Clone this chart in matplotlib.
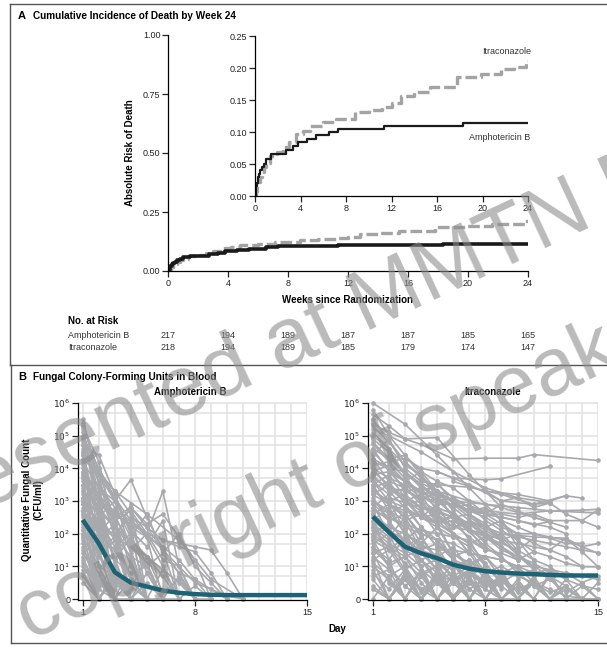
import matplotlib
matplotlib.use("Agg")  # no display in the sandbox
import matplotlib.pyplot as plt
from matplotlib.lines import Line2D
from matplotlib.transforms import blended_transform_factory

plt.rcParams["font.family"] = ["Liberation Sans Narrow", "Liberation Sans", "DejaVu Sans"]

# ---- Panel A: cumulative incidence of death (step curves) ----
AMB_WEEKS = [0, 0.05, 0.1, 0.15, 0.25, 0.35, 0.45, 0.6, 0.8, 1.0,
             1.45, 2.75, 3.3, 3.8, 4.6, 5.4, 6.5, 7.3, 11.3, 18.3, 24]
AMB_RISK = [0, 0.005, 0.015, 0.02, 0.03, 0.035, 0.04, 0.045, 0.05, 0.058,
            0.065, 0.072, 0.078, 0.084, 0.089, 0.095, 0.100, 0.105, 0.109, 0.114, 0.114]
ITRA_WEEKS = [0, 0.1, 0.2, 0.3, 0.45, 0.6, 0.8, 1.0, 1.3, 1.9,
              2.5, 3.0, 3.6, 4.2, 4.8, 6.0, 7.1, 8.8, 10.0, 11.2,
              12.0, 12.8, 14.0, 15.4, 17.8, 19.9, 21.6, 22.8, 23.8, 24.0]
ITRA_RISK = [0, 0.008, 0.015, 0.022, 0.03, 0.038, 0.045, 0.052, 0.062, 0.068,
             0.077, 0.084, 0.097, 0.101, 0.110, 0.115, 0.121, 0.131, 0.134, 0.139,
             0.145, 0.157, 0.162, 0.170, 0.186, 0.191, 0.198, 0.201, 0.211, 0.211]

RISK_WEEKS = [0, 4, 8, 12, 16, 20, 24]
AMB_AT_RISK = [217, 194, 189, 187, 187, 185, 165]
ITRA_AT_RISK = [218, 194, 189, 185, 179, 174, 147]

# ---- Panel B: log10 CFU/ml per patient (0 = no growth) ----
AMB_DAYS = [
    [1, 2, 3], [1, 2, 3, 4], [1, 2, 3], [1, 2, 3, 4, 5], [1, 2],
    [1, 2, 3, 4], [1, 2, 3], [1, 2, 3, 4, 5, 6], [1, 2, 3, 4, 5, 6, 7], [1, 2, 3],
    [1, 2, 3, 4], [1, 2], [1, 2, 3, 4, 5], [1, 3, 5, 6, 7, 8], [1, 2, 3],
    [1, 2, 3, 4, 5, 6, 7, 8, 9, 10], [1, 2, 3], [1, 2], [1, 2, 3, 4, 5, 6], [1, 2, 3],
    [1, 2, 3, 4], [1, 2], [1, 2, 3, 4, 5, 6, 7, 8, 9, 10, 11], [1, 2, 3], [1, 2],
    [1, 2, 3, 4], [1, 2], [1, 2, 3], [1, 2], [1, 2, 3],
    [1, 2, 3, 4, 5], [1, 2, 3, 4, 5, 6, 7], [1, 2, 3, 4, 5, 6, 7, 8], [1, 3, 5, 7, 9, 11],
    [1, 2, 3, 4, 5, 6, 7, 8, 9, 10, 11], [1, 2, 3, 4, 5], [2, 3, 4, 5, 6, 7], [1, 2, 3, 4],
    [1, 2, 3, 4, 5, 6, 7, 8, 9, 10], [1, 2, 3, 4, 5, 6, 7, 8, 9], [1, 2, 3, 4, 5, 6],
    [1, 2, 3, 4, 5, 6, 7, 8],
    [1, 2, 3], [1, 2, 3, 4], [1, 2, 3], [1, 2, 3, 4, 5], [1, 2, 3],
    [1, 2, 3, 4], [1, 2, 3, 4], [1, 2, 3, 4, 5, 6], [1, 2, 3, 4, 5], [1, 2, 3, 4],
    [1, 2, 3, 4], [1, 2, 3, 4, 5, 6, 7], [1, 2, 3], [1, 2, 3, 4, 5], [1, 2, 3, 4],
    [1, 2, 3], [1, 2, 3, 4, 5, 6], [1, 2, 3], [1, 2, 3, 4], [1, 2, 3],
    [1, 2, 3, 4, 5], [1, 2, 3, 4, 5, 6], [1, 2, 3, 4, 5, 6, 7, 8, 9], [2, 3, 4, 5], [2, 3, 4],
    [2, 3, 4, 5, 6], [3, 4, 5, 6, 7, 8], [1, 2, 3, 4, 5, 6, 7, 8, 9], [1, 2, 3, 4, 5, 6, 7],
    [4, 5, 6, 7, 8, 9], [1, 2, 3, 4, 5, 6, 7, 8, 9, 10], [1, 2, 3, 4, 5], [1, 2, 3, 4, 5],
    [1, 2, 3, 4, 5, 6, 7, 8],
]
AMB_LOGS = [
    [5.5, 3.5, 0], [5.3, 4.2, 2.0, 0], [5.2, 3.0, 0], [5.0, 4.0, 3.0, 1.5, 0], [4.8, 0],
    [4.6, 3.6, 2.5, 0], [4.5, 2.0, 0], [4.3, 3.8, 3.0, 2.2, 1.0, 0], [4.2, 3.4, 3.0, 3.65, 2.5, 1.5, 0], [4.0, 2.5, 0],
    [3.9, 3.2, 1.0, 0], [3.8, 0], [3.6, 2.8, 2.2, 1.2, 0], [3.5, 2.6, 2.0, 3.3, 1.0, 0], [3.4, 1.5, 0],
    [3.3, 3.0, 2.7, 2.4, 2.0, 1.8, 1.6, 1.45, 0.8, 0], [3.2, 2.2, 0], [3.0, 0], [2.9, 2.4, 1.6, 2.0, 0.8, 0], [2.8, 1.0, 0],
    [2.7, 2.0, 0, 0], [2.5, 0], [2.4, 2.2, 2.0, 2.5, 2.2, 1.8, 1.7, 1.6, 1.5, 0.8, 0], [2.2, 0.7, 0], [2.0, 0],
    [1.9, 1.0, 0.7, 0], [1.7, 0], [1.5, 0.8, 0], [1.3, 0], [1.0, 0.5, 0],
    [0.8, 0, 0.7, 0, 0], [0.5, 0, 0.6, 0, 0.8, 0, 0], [3.7, 3.0, 2.5, 2.8, 2.2, 1.5, 1.0, 0], [4.4, 3.3, 2.6, 1.8, 0.6, 0],
    [2.6, 1.8, 2.3, 1.5, 2.0, 1.2, 1.0, 0.5, 0.3, 0.1, 0], [3.1, 2.6, 1.8, 2.9, 0], [2.5, 3.0, 2.1, 1.6, 2.4, 0], [5.1, 2.8, 1.2, 0],
    [1.8, 2.4, 1.2, 1.9, 2.6, 1.4, 2.0, 1.0, 0.5, 0], [2.1, 1.4, 0, 1.1, 0, 0.9, 0, 0.4, 0], [4.7, 3.9, 3.3, 2.6, 1.9, 0],
    [1.2, 0.4, 1.0, 0.3, 1.3, 0.2, 0.6, 0],
    [5.4, 2.2, 0], [5.0, 3.8, 1.8, 0], [4.9, 1.0, 0], [4.7, 4.4, 3.2, 2.0, 0], [4.4, 2.6, 0.5],
    [4.1, 3.0, 2.4, 0], [3.9, 1.8, 0.9, 0], [3.7, 3.5, 2.8, 1.9, 1.1, 0], [3.5, 2.0, 2.6, 1.4, 0], [3.3, 2.8, 1.2, 0],
    [3.1, 1.6, 0.8, 0], [3.0, 2.7, 2.2, 1.8, 1.3, 0.7, 0], [2.9, 2.1, 0.3], [2.6, 2.0, 1.5, 0.6, 0], [2.4, 1.3, 1.8, 0],
    [2.3, 1.9, 0.4], [2.1, 1.6, 1.2, 0.8, 1.0, 0], [1.9, 0.3, 0], [1.6, 1.4, 0.5, 0], [1.4, 0.6, 0],
    [1.1, 0, 0.9, 0.4, 0], [0.9, 0.5, 0, 0.6, 0, 0], [0.7, 0, 0.8, 0, 0.5, 0, 0.7, 0, 0], [4.0, 3.1, 2.0, 0], [3.5, 2.3, 0],
    [2.9, 2.5, 1.7, 1.0, 0], [2.4, 2.7, 2.0, 1.5, 0.8, 0], [3.8, 3.2, 2.6, 2.2, 1.9, 1.6, 1.2, 0.6, 0],
    [4.5, 3.9, 3.1, 2.4, 1.9, 1.0, 0],
    [2.8, 2.3, 2.6, 1.9, 1.2, 0], [2.0, 1.5, 1.9, 1.3, 1.0, 1.4, 0.8, 0.6, 0.3, 0], [5.3, 3.9, 2.4, 1.0, 0],
    [4.9, 3.3, 2.0, 0.6, 0],
    [2.7, 2.2, 1.9, 1.6, 1.3, 0.9, 0.5, 0],
]

ITRA_DAYS = [
    [1, 3, 5, 7, 9, 11], [1, 2, 3, 5, 7, 9], [1, 2, 3, 4, 6, 8, 10, 11, 15], [1, 2, 4, 6, 8, 10, 12],
    [1, 2, 3, 4, 5, 6, 7, 8], [1, 2, 3, 4, 5, 6, 8, 9, 12], [1, 2, 3, 4, 5, 7, 9, 11, 13, 14],
    [1, 2, 3, 4, 5, 6, 8, 10, 12, 14, 15], [1, 2, 3, 4, 5, 6, 7, 8, 9, 10, 11, 12],
    [1, 2, 3, 4, 6, 8, 10, 12, 15], [1, 2, 3, 4, 5, 6, 7], [1, 2, 3, 4, 5],
    [1, 2, 3, 4, 5, 6, 7, 8, 9], [1, 2, 3, 4, 5, 6, 7, 8, 9, 10, 11],
    [1, 2, 3, 4, 5, 6, 7, 8, 9, 10, 11, 12, 13, 14, 15], [1, 2, 3, 4, 5, 6, 7, 8], [1, 2, 3, 4],
    [1, 2, 3, 4, 5, 6], [1, 2, 3, 4, 5, 6, 7, 8, 9, 10, 11, 12, 13, 14, 15], [1, 2, 3],
    [1, 2, 3, 4, 5, 6, 7, 8, 9, 10], [1, 2, 3, 4, 5], [1, 2, 3, 4, 5, 6, 7, 8, 9, 10, 11, 12, 13, 14],
    [1, 2, 3, 4], [1, 2, 3, 4, 5, 6, 7, 8], [1, 2, 3], [1, 2, 3, 4, 5, 6],
    [1, 2, 3, 4, 5, 6, 7, 8, 9, 10], [1, 2, 3, 4, 5, 6, 7, 8, 9, 10, 11, 12, 13],
    [1, 2, 3, 4, 5, 6, 7, 8, 9, 10, 11, 12, 13, 14, 15], [1, 2, 3, 4, 5, 6, 7, 8, 9, 10, 11, 12],
    [1, 2, 3, 4, 5, 6, 7, 8, 9, 10, 11, 12, 13, 14], [1, 2, 3, 4, 5, 6, 7, 8, 9, 10, 11, 12, 13, 14, 15],
    [1, 2, 3, 4, 5, 6, 7, 8, 9, 10], [1, 2, 3, 4, 5, 6, 7, 8, 9, 10, 11, 12, 13, 14, 15],
    [1, 2, 3, 4, 5, 6, 7], [1, 2, 3, 4, 5, 6, 7, 8, 9, 10, 11], [1, 2, 3, 4, 5, 6],
    [1, 2, 3, 4, 5, 6, 7, 8, 9], [1, 2, 3, 4, 5, 6, 7, 8, 9, 10, 11, 12],
    [1, 2, 3, 4, 5, 6, 7, 8, 9, 10, 11, 12, 13, 14], [2, 3, 4, 5, 6, 7, 8, 9, 10, 11, 12, 13],
    [1, 2, 3, 4, 5, 6, 7, 8, 9, 10, 11, 12, 13, 14, 15], [1, 2, 3, 4, 5, 6, 7, 8, 9, 10, 11, 12, 13],
    [1, 3, 5, 7, 9, 11], [1, 2, 3, 5, 7, 9, 11, 13], [1, 2, 3, 4, 5, 6, 7, 8, 9], [1, 2, 3, 4, 5, 6, 7],
    [1, 2, 3, 4, 5, 6, 7, 8, 9, 10, 11, 12, 13, 14, 15], [1, 2, 3, 4, 5, 6],
    [6, 8, 10, 12, 13], [5, 7, 9, 11, 12], [7, 9, 11, 13, 14, 15],
    [1, 2, 3, 4, 5, 6, 7, 8, 9, 10], [1, 2, 3, 4, 5, 6, 7, 8], [1, 2, 3, 4, 5, 6, 7, 8, 9],
    [1, 2, 3, 4, 5, 6, 7], [1, 2, 3, 4, 5, 6, 7, 8, 9, 10, 11], [1, 2, 3, 4, 5, 6],
    [1, 2, 3, 4, 5, 6, 7, 8], [1, 2, 3, 4, 5, 6, 7, 8, 9, 10, 11, 12], [1, 2, 3, 4, 5],
    [1, 2, 3, 4, 5, 6, 7, 8, 9], [1, 2, 3, 4, 5, 6, 7], [1, 2, 3, 4, 5, 6, 7, 8, 9, 10],
    [1, 2, 3, 4, 5, 6], [1, 2, 3, 4, 5, 6, 7, 8], [1, 2, 3, 4, 5],
    [1, 2, 3, 4, 5, 6, 7, 8, 9, 10, 11], [1, 2, 3, 4, 5, 6], [1, 2, 3, 4, 5, 6, 7, 8, 9],
    [1, 2, 3, 4, 5, 6, 7, 8, 9, 10, 11, 12, 13, 14], [1, 2, 3, 4, 5, 6, 7, 8, 9, 10, 11, 12, 13, 14, 15],
    [1, 2, 3, 4, 5, 6, 7, 8, 9, 10, 11, 12, 13, 14, 15], [2, 3, 4, 5, 6, 7, 8],
    [2, 3, 4, 5, 6, 7, 8, 9], [3, 4, 5, 6, 7, 8, 9, 10], [2, 4, 6, 8, 10],
    [1, 2, 3, 4, 5, 6, 7, 8, 9, 10, 11, 12, 13], [1, 2, 3, 4, 5, 6, 7, 8],
    [1, 2, 3, 4, 5, 6, 7, 8, 9, 10], [1, 2, 3, 4, 5, 6], [4, 5, 6, 7, 8, 9, 10, 11, 12],
    [5, 6, 7, 8, 9, 10, 11, 12, 13, 14], [1, 2, 3, 4, 5, 6, 7, 8, 9, 10, 11, 12, 13, 14, 15],
    [1, 2, 3, 4, 5, 6, 7, 8, 9, 10, 11, 12, 13, 14, 15], [1, 2, 3, 4, 5, 6, 7, 8, 9, 10, 11, 12],
    [6, 7, 8, 9, 10, 11, 12, 13, 14, 15], [8, 9, 10, 11, 12, 13, 14, 15], [1, 2, 3, 4, 5, 6, 7, 8, 9],
    [1, 2, 3, 4, 5, 6, 7, 8, 9, 10, 11, 12, 13, 14, 15],
]
ITRA_LOGS = [
    [6.0, 5.35, 4.4, 3.4, 2.4, 1.2], [5.65, 5.3, 4.9, 4.94, 3.8, 2.8],
    [5.35, 5.1, 4.9, 4.73, 4.29, 4.31, 4.31, 4.42, 4.24], [5.2, 5.0, 4.5, 3.9, 3.4, 3.1, 2.95],
    [5.0, 4.6, 4.1, 3.8, 3.2, 2.5, 1.8, 1.0], [4.75, 4.2, 4.3, 4.0, 3.9, 3.7, 3.65, 3.68, 4.06],
    [4.4, 4.9, 4.0, 3.6, 3.5, 3.42, 3.2, 2.9, 3.16, 3.09],
    [4.2, 4.0, 3.9, 3.4, 3.2, 3.0, 2.9, 2.8, 2.7, 2.72, 2.75],
    [4.0, 3.7, 3.5, 3.3, 3.0, 3.1, 2.8, 2.6, 2.5, 2.4, 2.27, 2.37],
    [3.9, 4.1, 3.6, 3.3, 3.0, 2.7, 2.6, 2.7, 2.63], [3.8, 3.3, 2.8, 2.2, 1.6, 0.8, 0], [3.6, 3.0, 2.1, 1.0, 0],
    [3.5, 3.8, 3.1, 2.5, 2.9, 2.0, 1.4, 0.7, 0], [3.3, 3.0, 3.2, 2.8, 2.6, 2.2, 2.3, 1.9, 1.7, 1.5, 1.86],
    [3.2, 2.9, 2.7, 2.5, 2.6, 2.2, 2.1, 2.0, 1.8, 1.7, 1.6, 1.5, 1.86, 1.6, 1.4],
    [3.0, 2.6, 2.9, 2.2, 1.8, 1.2, 0.5, 0], [2.9, 2.0, 1.0, 0],
    [2.8, 3.2, 2.4, 1.5, 0.9, 0], [2.7, 2.5, 2.3, 2.1, 2.0, 1.9, 1.8, 1.5, 1.4, 1.2, 1.45, 1.3, 1.1, 0.99, 0.98],
    [2.5, 1.2, 0], [2.4, 2.8, 2.0, 1.7, 2.2, 1.4, 1.0, 1.3, 0.6, 0], [2.2, 1.5, 0.8, 0.3, 0],
    [2.0, 2.3, 1.8, 1.5, 1.7, 1.2, 1.0, 0.9, 0.8, 0.7, 0.5, 0.3, 0.1, 0.02],
    [1.8, 1.0, 0.4, 0], [1.6, 1.2, 1.9, 0.9, 0.5, 1.1, 0.3, 0], [1.4, 0.5, 0], [1.2, 0, 0.8, 0, 0.7, 0],
    [1.0, 0.6, 0, 0.9, 0, 0.8, 0, 0.6, 0, 0], [0.6, 0, 0.7, 0, 0.9, 0, 0.7, 0, 0.8, 0, 0.6, 0, 0],
    [0.4, 0, 0.6, 0, 0.5, 0, 0.9, 0, 0.7, 0, 0.5, 0, 0.3, 0, 0],
    [4.6, 4.3, 3.9, 3.5, 3.0, 2.6, 2.2, 1.7, 1.3, 0.8, 0.4, 0],
    [4.1, 4.2, 3.7, 3.2, 2.9, 2.9, 2.7, 2.5, 2.2, 2.0, 2.0, 1.86, 1.7, 1.71],
    [3.7, 3.4, 3.3, 3.1, 3.0, 2.9, 2.7, 2.6, 2.6, 2.5, 2.6, 2.4, 2.4, 2.4, 2.73],
    [3.4, 3.6, 2.9, 3.0, 2.4, 2.5, 2.1, 2.0, 1.6, 1.2],
    [2.6, 2.2, 2.0, 1.6, 1.5, 1.5, 1.4, 1.3, 1.2, 1.0, 1.0, 0.9, 0.8, 0.7, 0.6],
    [4.9, 4.5, 3.8, 3.0, 2.3, 1.4, 0], [4.3, 3.6, 3.4, 3.0, 3.3, 2.8, 2.9, 2.4, 2.1, 1.8, 1.45],
    [3.1, 2.4, 2.6, 1.9, 1.2, 0], [2.3, 1.9, 2.5, 1.7, 1.3, 1.6, 0.9, 0.5, 0],
    [1.9, 2.2, 1.4, 1.0, 1.2, 0.6, 0.9, 0.4, 0.7, 0.2, 0.5, 0],
    [1.5, 1.1, 1.3, 0.8, 1.0, 0.5, 0.8, 0.4, 0.6, 0.3, 0.5, 0.2, 0.4, 0],
    [3.4, 3.0, 2.7, 2.3, 2.6, 2.1, 1.8, 2.0, 1.5, 1.2, 1.0, 0.6],
    [3.9, 3.5, 3.1, 2.8, 2.7, 2.5, 2.3, 2.2, 2.0, 1.9, 1.8, 1.7, 1.6, 1.5, 1.42],
    [4.5, 4.0, 3.6, 3.3, 3.5, 3.1, 2.8, 2.6, 2.5, 2.4, 2.3, 2.2, 2.0],
    [5.5, 4.2, 3.3, 2.6, 1.8, 0.9], [5.1, 4.6, 3.8, 3.3, 3.0, 2.8, 2.5, 2.2],
    [2.1, 1.7, 1.4, 1.9, 1.1, 0.7, 1.0, 0.3, 0], [1.3, 0.9, 0.4, 0.8, 0, 0.5, 0],
    [0.8, 0.3, 0.9, 0.2, 0.7, 0.1, 0.6, 0, 0.6, 0, 0.5, 0, 0.4, 0, 0],
    [3.5, 2.7, 2.0, 1.2, 0.5, 0],
    [3.6, 3.3, 3.2, 3.0, 3.16], [3.9, 3.5, 3.0, 2.9, 2.94], [2.4, 2.0, 1.9, 1.86, 1.45, 0.99],
    [4.6, 3.9, 3.6, 3.2, 2.8, 2.6, 2.3, 2.0, 1.6, 1.2], [4.3, 4.0, 3.3, 3.4, 2.7, 2.3, 1.9, 1.5],
    [4.0, 3.4, 3.0, 3.2, 2.4, 2.0, 1.7, 1.1, 0.5],
    [3.8, 3.9, 3.4, 2.9, 2.6, 2.0, 1.4], [3.6, 3.2, 3.4, 3.0, 2.7, 2.5, 2.6, 2.2, 1.9, 1.4, 1.0],
    [3.4, 2.9, 2.5, 2.7, 2.0, 1.2],
    [3.2, 3.5, 3.0, 2.5, 2.2, 1.9, 1.6, 1.0], [3.0, 2.7, 2.4, 2.6, 2.3, 2.0, 1.7, 1.9, 1.5, 1.3, 1.1, 0.8],
    [2.8, 2.4, 1.7, 1.2, 0.6],
    [2.6, 2.9, 2.6, 2.0, 1.8, 1.3, 1.5, 0.8, 0.3], [2.4, 2.0, 1.6, 1.9, 1.2, 0.7, 0],
    [2.2, 1.8, 2.1, 1.5, 1.3, 1.0, 1.2, 0.6, 0.4, 0],
    [2.0, 1.6, 1.1, 0.7, 1.0, 0], [1.8, 1.5, 1.7, 1.2, 0.8, 0.5, 0.9, 0], [1.6, 1.0, 1.3, 0.5, 0],
    [1.4, 1.6, 0.9, 1.2, 0.6, 0.8, 0.3, 0.6, 0, 0.4, 0], [1.1, 0.7, 1.0, 0.3, 0.6, 0],
    [0.9, 0, 0.6, 0, 0.8, 0, 0.6, 0, 0],
    [0.7, 0.9, 0, 0.7, 0, 0.8, 0, 0.9, 0, 0.6, 0, 0.8, 0, 0],
    [0.3, 0, 0.8, 0, 0.6, 0, 0.5, 0, 0.9, 0, 0.7, 0, 0.6, 0, 0.5],
    [0, 0.7, 0, 0.9, 0, 0.6, 0, 0.8, 0, 0.5, 0, 0.7, 0, 0.4, 0], [4.4, 3.8, 3.5, 3.1, 2.8, 2.4, 2.0],
    [3.9, 3.6, 3.9, 3.3, 3.0, 2.6, 2.3, 1.8], [3.5, 3.1, 3.6, 2.9, 2.5, 2.2, 2.4, 1.6], [3.1, 2.8, 2.5, 1.6, 0.9],
    [3.3, 3.0, 2.8, 2.5, 2.3, 2.4, 2.1, 1.9, 1.6, 1.3, 1.0, 0.7, 0.4], [5.3, 4.8, 4.2, 3.7, 3.3, 2.7, 2.1, 1.5],
    [4.8, 4.3, 4.4, 3.9, 3.6, 3.4, 3.0, 2.6, 2.3, 2.0], [5.8, 5.0, 4.4, 3.8, 3.1, 2.5],
    [3.3, 3.0, 3.1, 2.8, 2.6, 2.9, 2.7, 2.5, 2.37],
    [2.5, 2.2, 2.4, 2.1, 1.8, 2.0, 1.7, 1.5, 1.3, 1.0],
    [2.9, 2.5, 2.2, 2.0, 1.8, 1.7, 1.4, 1.3, 1.2, 1.0, 0.8, 0.9, 0.6, 0.4, 0.3],
    [1.7, 2.0, 1.5, 1.2, 1.4, 1.0, 0.7, 1.0, 0.5, 0.8, 0.4, 0.6, 0.2, 0.5, 0],
    [2.5, 2.1, 1.8, 2.2, 1.6, 1.4, 1.1, 1.3, 0.8, 1.0, 0.5, 0],
    [3.0, 2.7, 2.8, 2.4, 2.2, 2.0, 1.9, 1.8, 1.6, 1.7], [3.3, 3.0, 3.1, 2.8, 2.94, 2.6, 2.4, 2.2],
    [1.2, 1.5, 1.9, 1.4, 0.9, 1.1, 0.6, 0.3, 0],
    [1.9, 1.6, 1.3, 1.5, 1.1, 0.9, 1.2, 0.8, 1.0, 0.7, 0.9, 0.6, 0.8, 0.5, 0.7],
]

MEAN_DAYS = list(range(1, 16))
AMB_MEAN = [2.42, 1.7, 0.82, 0.5, 0.38, 0.26, 0.19, 0.15, 0.13, 0.12, 0.12, 0.12, 0.12, 0.12, 0.12]
ITRA_MEAN = [2.52, 2.05, 1.6, 1.4, 1.25, 1.05, 0.93, 0.85, 0.81, 0.78, 0.76, 0.74, 0.72, 0.72, 0.72]

W, H = 607, 648
GRAY_LINE = "#a7a9ac"
TEAL = "#1d6275"
TXT = "#222222"


def fx(px):
    return px / W


def fy(py):
    return 1 - py / H


def box(left, top, right, bottom):
    return [fx(left), fy(bottom), fx(right) - fx(left), fy(top) - fy(bottom)]


def style_axis(ax):
    for s in ("top", "right"):
        ax.spines[s].set_visible(False)
    for s in ("left", "bottom"):
        ax.spines[s].set_linewidth(0.9)
    ax.tick_params(direction="out", length=4, width=0.9, labelsize=6.5, colors=TXT, pad=1.5)


fig = plt.figure(figsize=(W / 100, H / 100), dpi=100)

# panel frames
for xs, ys in [((10, 607), (4, 4)), ((10, 10), (4, 365)), ((10, 607), (365, 365)),
               ((11, 11), (365, 643)), ((11, 607), (643, 643))]:
    fig.add_artist(Line2D([fx(x) for x in xs], [fy(y) for y in ys], color="#555555", lw=1))

# ---------------- Panel A ----------------
fig.text(fx(18), fy(16), "A", fontsize=8, fontweight="bold", va="center")
fig.text(fx(33), fy(16), "Cumulative Incidence of Death by Week 24", fontsize=7.2,
         fontweight="bold", va="center")

ax = fig.add_axes(box(168, 35, 528, 271))
ax.step(ITRA_WEEKS, ITRA_RISK, where="post", color="#a3a3a3", lw=2.4, dashes=(3.5, 1.2))
ax.step(AMB_WEEKS, AMB_RISK, where="post", color="#1a1a1a", lw=2.6)
ax.set_xlim(0, 24)
ax.set_ylim(0, 1)
ax.set_xticks(range(0, 25, 4))
ax.set_yticks([0, 0.25, 0.5, 0.75, 1.0])
ax.set_yticklabels(["0.00", "0.25", "0.50", "0.75", "1.00"])
style_axis(ax)
ax.patch.set_alpha(0)

fig.text(fx(348), fy(300), "Weeks since Randomization", fontsize=7, fontweight="bold",
         ha="center", va="center")
fig.text(fx(130), fy(153), "Absolute Risk of Death", fontsize=7, fontweight="bold",
         ha="center", va="center", rotation=90)

inset = fig.add_axes(box(255, 36, 528, 196))
inset.step(ITRA_WEEKS, ITRA_RISK, where="post", color="#a3a3a3", lw=2.4, dashes=(3.5, 1.2))
inset.step(AMB_WEEKS, AMB_RISK, where="post", color="#1a1a1a", lw=1.6)
inset.set_xlim(0, 24)
inset.set_ylim(0, 0.25)
inset.set_xticks(range(0, 25, 4))
inset.set_yticks([0, 0.05, 0.10, 0.15, 0.20, 0.25])
inset.set_yticklabels(["0.00", "0.05", "0.10", "0.15", "0.20", "0.25"])
style_axis(inset)
inset.patch.set_alpha(0)
inset.text(22.1, 0.225, "Itraconazole", fontsize=6.5, color="#333333", ha="center", va="center")
inset.text(21.5, 0.092, "Amphotericin B", fontsize=6.5, color="#333333", ha="center", va="center")

# numbers at risk
trans = blended_transform_factory(ax.transData, fig.transFigure)
fig.text(fx(68), fy(321), "No. at Risk", fontsize=7, fontweight="bold", va="center")
fig.text(fx(68), fy(335), "Amphotericin B", fontsize=6.5, color="#333333", va="center")
fig.text(fx(68), fy(347), "Itraconazole", fontsize=6.5, color="#333333", va="center")
for wk, a, b in zip(RISK_WEEKS, AMB_AT_RISK, ITRA_AT_RISK):
    ax.text(wk, fy(335), str(a), transform=trans, fontsize=6.5, color="#333333", ha="center", va="center")
    ax.text(wk, fy(347), str(b), transform=trans, fontsize=6.5, color="#333333", ha="center", va="center")

# ---------------- Panel B ----------------
fig.text(fx(18), fy(377), "B", fontsize=8, fontweight="bold", va="center")
fig.text(fx(33), fy(377), "Fungal Colony-Forming Units in Blood", fontsize=7.2,
         fontweight="bold", va="center")


def cfu_panel(rect, days_list, logs_list, mean, title, title_x):
    bx = fig.add_axes(rect)
    for d in range(1, 16):
        bx.plot([d, d], [-0.03, 6.0], color="#e3e3e3", lw=1.2, zorder=0)
    for n in range(1, 7):
        for yv in (n, n - 0.301):
            bx.plot([0.7, 15], [yv, yv], color="#e3e3e3", lw=1.2, zorder=0)
    for days, logs in zip(days_list, logs_list):
        bx.plot(days, logs, color=GRAY_LINE, lw=1.2, marker="o", ms=2.3, zorder=2, clip_on=False)
    bx.plot(MEAN_DAYS, mean, color=TEAL, lw=3.2, zorder=3, solid_capstyle="butt")
    bx.set_xlim(0.7, 15)
    bx.set_ylim(-0.03, 6.03)
    bx.set_xticks([1, 8, 15])
    bx.set_yticks(range(7))
    bx.set_yticklabels(["0"] + [f"$10^{{{n}}}$" for n in range(1, 7)])
    style_axis(bx)
    bx.spines["left"].set_bounds(-0.03, 6.0)
    fig.text(fx(title_x), fy(392), title, fontsize=7, fontweight="bold", ha="center", va="center")
    return bx


cfu_panel(box(78, 402, 307, 600), AMB_DAYS, AMB_LOGS, AMB_MEAN, "Amphotericin B", 190)
cfu_panel(box(368, 402, 598, 600), ITRA_DAYS, ITRA_LOGS, ITRA_MEAN, "Itraconazole", 493)

fig.text(fx(33), fy(500), "Quantitative Fungal Count\n(CFU/ml)", fontsize=7, fontweight="bold",
         ha="center", va="center", rotation=90, multialignment="center")
fig.text(fx(337), fy(629), "Day", fontsize=7, fontweight="bold", ha="center", va="center")

# watermark over everything
wm = dict(color="#8c8c8c", alpha=0.6, rotation=25, rotation_mode="anchor",
          ha="center", va="baseline", family=["Liberation Sans", "DejaVu Sans"], zorder=20)
fig.text(fx(398), fy(317), "Presented at MMTN Meeting", fontsize=61, **wm)
fig.text(fx(358), fy(487), "copyright of speaker", fontsize=58, **wm)

fig.savefig("out.png", dpi=100)
